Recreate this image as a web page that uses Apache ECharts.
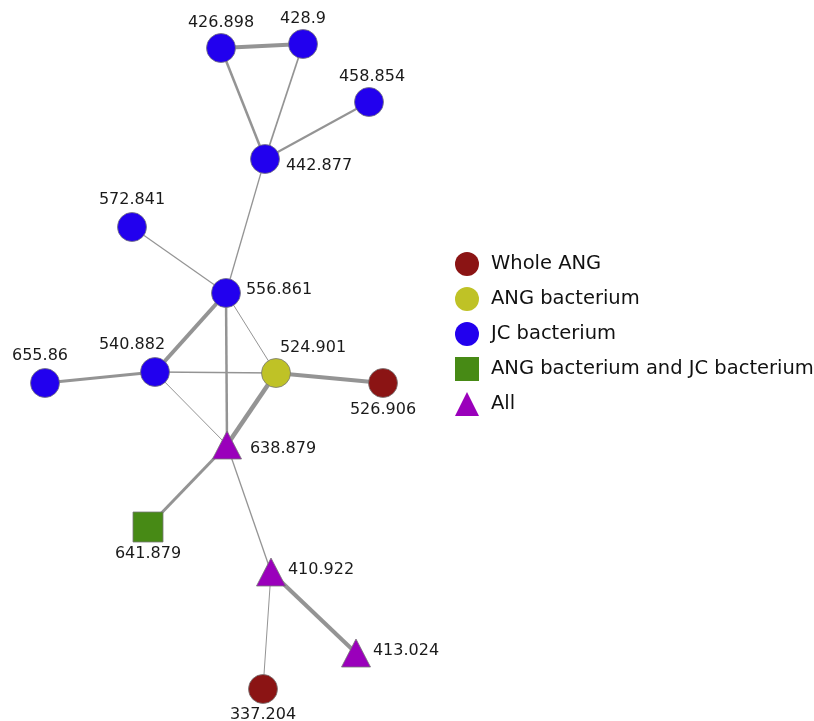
<!DOCTYPE html>
<html>
<head>
<meta charset="utf-8">
<script src="https://cdn.jsdelivr.net/npm/echarts@6/dist/echarts.min.js"></script>
<style>html,body{margin:0;padding:0;background:#fff}#c{width:814px;height:721px}</style>
</head>
<body>
<div id="c"></div>
<script>
// ---- data ----
var categoryNames = ['Whole ANG', 'ANG bacterium', 'JC bacterium', 'ANG bacterium and JC bacterium', 'All'];
var nodeNames = ['426.898','428.9','458.854','442.877','572.841','556.861','540.882','655.86','524.901','526.906','638.879','641.879','410.922','413.024','337.204'];
var nodeCategory = [2,2,2,2,2,2,2,2,1,0,4,3,4,4,0];
// layout coordinates of the network
var nodeX = [221,303,369,265,132,226,155,45,276,383,227,148,271,356,263];
var nodeY = [48,44,102,159,227,293,372,383,373,383,445,527,572,653,689];
var linkSource = ['426.898','426.898','428.9','458.854','442.877','572.841','556.861','556.861','556.861','540.882','540.882','540.882','524.901','524.901','638.879','638.879','410.922','410.922'];
var linkTarget = ['428.9','442.877','442.877','442.877','556.861','556.861','540.882','524.901','638.879','655.86','524.901','638.879','526.906','638.879','641.879','410.922','413.024','337.204'];
var linkWeight = [4,2.5,1.7,2,1.3,1.2,4,1,2.5,3,1.5,1,4,4.5,3,1.3,4,1];

// ---- styles ----
var catColors = ['#8b1414','#bfc226','#2200ee','#478a15','#9a00bb'];
var catSymbols = ['circle','circle','circle','rect','triangle'];
var catSizes = [29,29,29,30,[29,28]];
// label placement per node: [position, distance, offsetX, offsetY]
var labelPlace = {
  '426.898':['top',2,0,0], '428.9':['top',2,0,0], '458.854':['top',2,3,0],
  '442.877':['right',6,0,7], '572.841':['top',4,0,0], '556.861':['right',5,0,-3],
  '540.882':['top',4,-23,0], '655.86':['top',4,-5,0], '524.901':['top',2,37,0],
  '526.906':['bottom',4,0,0], '638.879':['right',8,0,4], '641.879':['bottom',3,0,0],
  '410.922':['right',2,0,-2], '413.024':['right',2,0,-2], '337.204':['bottom',3,0,0]
};

var nodes = nodeNames.map(function(n,i){
  var c = nodeCategory[i], lp = labelPlace[n];
  return {
    name: n,
    value: [nodeX[i], nodeY[i]],
    category: c,
    symbol: catSymbols[c],
    symbolSize: catSizes[c],
    label: {show:true, position: lp[0], distance: lp[1], offset:[lp[2], lp[3]]}
  };
});
var links = linkSource.map(function(s,i){
  return {source: s, target: linkTarget[i], lineStyle:{width: linkWeight[i]}};
});

var chart = echarts.init(document.getElementById('c'), null, {renderer:'canvas'});
chart.setOption({
  animation:false,
  backgroundColor:'#ffffff',
  grid:{left:0,right:0,top:0,bottom:0},
  xAxis:{type:'value',min:0,max:814,show:false},
  yAxis:{type:'value',min:0,max:721,inverse:true,show:false},
  legend:{
    orient:'vertical', left:450, top:247,
    itemWidth:24, itemHeight:24, itemGap:11,
    itemStyle:{borderWidth:0},
    textStyle:{fontFamily:'DejaVu Sans', fontSize:19.5, color:'#111', padding:[0,0,0,7]},
    data: categoryNames.map(function(n,i){return {name:n, icon:catSymbols[i]};})
  },
  series:[{
    type:'graph',
    coordinateSystem:'cartesian2d',
    layout:'none',
    categories: categoryNames.map(function(n,i){return {name:n, itemStyle:{color:catColors[i]}};}),
    data: nodes,
    links: links,
    itemStyle:{borderColor:'#777',borderWidth:0.8},
    lineStyle:{color:'#949494',opacity:1,curveness:0},
    label:{show:true, formatter:'{b}', fontFamily:'DejaVu Sans', fontSize:16, color:'#1a1a1a'},
    emphasis:{disabled:true}
  }]
});
</script>
</body>
</html>
